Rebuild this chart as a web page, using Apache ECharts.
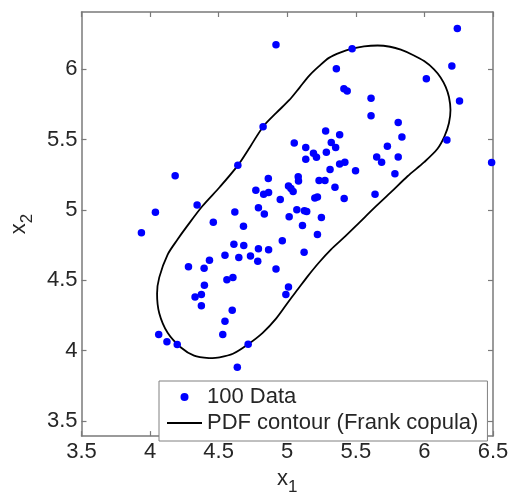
<!DOCTYPE html>
<html>
<head>
<meta charset="utf-8">
<script src="https://cdn.jsdelivr.net/npm/echarts@6/dist/echarts.min.js"></script>
<style>
html,body{margin:0;padding:0;background:#fff;}
#chart{width:515px;height:501px;}
</style>
</head>
<body>
<div id="chart"></div>
<script>
// ---- data ----
const dataX = [6.240,4.918,5.473,5.358,6.200,6.014,5.413,5.437,6.256,5.611,
  5.611,4.824,5.809,5.280,5.382,5.836,5.051,5.321,6.164,5.353,
  5.135,5.730,5.191,5.285,5.213,5.135,5.652,5.688,5.809,5.382,
  5.420,4.640,6.490,4.183,5.312,5.498,5.785,4.862,5.080,5.082,
  5.232,5.275,5.348,4.771,5.009,5.027,5.043,4.828,4.864,5.640,
  4.949,5.201,5.220,5.415,4.343,4.039,4.618,4.790,4.833,5.070,
  5.125,5.142,5.014,5.249,3.937,4.461,4.681,5.111,5.220,4.964,
  4.611,4.683,4.790,4.864,4.546,4.647,4.732,5.123,4.785,4.433,
  4.280,4.394,4.918,4.560,4.604,4.396,5.009,4.990,4.328,4.374,
  4.374,4.599,4.546,4.530,4.063,4.123,4.198,4.715,4.636];
const dataY = [6.289,6.174,6.146,6.004,6.023,5.933,5.861,5.845,5.775,5.794,
  5.669,5.592,5.622,5.562,5.535,5.518,5.476,5.479,5.497,5.444,
  5.444,5.453,5.403,5.410,5.375,5.361,5.377,5.340,5.377,5.326,
  5.340,5.317,5.337,5.243,5.287,5.278,5.257,5.224,5.236,5.206,
  5.210,5.210,5.162,5.141,5.171,5.153,5.132,5.111,5.125,5.111,
  5.074,5.085,5.092,5.081,5.035,4.983,4.986,5.016,4.972,5.002,
  4.995,4.990,4.951,4.947,4.838,4.912,4.884,4.889,4.826,4.782,
  4.757,4.747,4.724,4.717,4.678,4.662,4.673,4.699,4.636,4.643,
  4.597,4.585,4.581,4.504,4.521,4.465,4.453,4.400,4.382,4.400,
  4.319,4.287,4.210,4.115,4.115,4.063,4.044,4.046,3.882];

const contourX = [4.430,4.321,4.225,4.128,4.067,4.051,4.067,4.128,4.200,4.270,
  4.382,4.510,4.640,4.730,4.824,4.920,5.014,5.090,5.159,5.230,
  5.304,5.390,5.473,5.560,5.659,5.750,5.828,5.920,5.998,6.070,
  6.118,6.155,6.179,6.190,6.179,6.147,6.094,5.998,5.877,5.760,
  5.640,5.520,5.420,5.320,5.230,5.150,5.080,5.010,4.920,4.821,
  4.715,4.604,4.507,4.430];
const contourY = [3.947,3.965,4.023,4.127,4.266,4.405,4.521,4.683,4.790,4.885,
  5.028,5.165,5.317,5.450,5.592,5.690,5.780,5.870,5.953,6.020,
  6.081,6.120,6.146,6.163,6.169,6.160,6.139,6.100,6.058,6.000,
  5.942,5.875,5.803,5.710,5.618,5.525,5.433,5.340,5.240,5.130,
  5.020,4.905,4.810,4.720,4.625,4.530,4.440,4.350,4.230,4.127,
  4.046,3.978,3.953,3.947];

const xTicks = [3.5,4,4.5,5,5.5,6,6.5];
const yTicks = [3.5,4,4.5,5,5.5,6];
const seriesNames = ['100 Data','PDF contour (Frank copula)'];

// ---- chart ----
const FONT = 'Liberation Sans, Arial, sans-serif';
const TXT = '#262626';
const AX = '#7a7a7a';

const chart = echarts.init(document.getElementById('chart'), null, {renderer:'canvas'});
const scatterData = dataX.map((x,i)=>[x,dataY[i]]);
const contourData = contourX.map((x,i)=>[x,contourY[i]]);

const axLine = {show:true, onZero:false, lineStyle:{color:AX, width:1.5}};
const axTickX = {show:true, inside:true, length:5, customValues:xTicks, lineStyle:{color:AX, width:1.2}};
const axTickY = {show:true, inside:true, length:5, customValues:yTicks, lineStyle:{color:AX, width:1.2}};
const nameRich = {a:{fontSize:22, lineHeight:22, verticalAlign:'top', color:TXT, fontFamily:FONT},
                  b:{fontSize:17, lineHeight:28, verticalAlign:'bottom', color:TXT, fontFamily:FONT}};

chart.setOption({
  animation:false,
  backgroundColor:'#fff',
  grid:{left:79, right:22, top:12, bottom:55, containLabel:false},
  xAxis:[
    {type:'value', min:3.5, max:6.5, interval:0.5, position:'bottom',
     axisLine:axLine, axisTick:axTickX, splitLine:{show:false},
     axisLabel:{show:true, customValues:xTicks, margin:5, fontSize:22, color:TXT, fontFamily:FONT},
     name:'{a|x}{b|1}', nameLocation:'middle', nameGap:28,
     nameTextStyle:{color:TXT, fontFamily:FONT, rich:nameRich}},
    {type:'value', min:3.5, max:6.5, interval:0.5, position:'top',
     axisLine:axLine, axisTick:axTickX, splitLine:{show:false}, axisLabel:{show:false}}
  ],
  yAxis:[
    {type:'value', min:3.393, max:6.407, position:'left',
     axisLine:axLine, axisTick:axTickY, splitLine:{show:false},
     axisLabel:{show:true, customValues:yTicks, margin:4, fontSize:22, color:TXT, fontFamily:FONT},
     name:'{a|x}{b|2}', nameLocation:'middle', nameGap:42,
     nameTextStyle:{color:TXT, fontFamily:FONT, rich:nameRich}},
    {type:'value', min:3.393, max:6.407, position:'right',
     axisLine:axLine, axisTick:axTickY, splitLine:{show:false}, axisLabel:{show:false}}
  ],
  legend:{
    show:true, orient:'vertical', left:159, top:381,
    padding:[5,9,7,8], itemGap:4, itemWidth:35, itemHeight:8,
    borderColor:'#808080', borderWidth:1, backgroundColor:'#fff',
    textStyle:{fontSize:22, color:TXT, fontFamily:FONT},
    data:[
      {name:seriesNames[0], icon:'circle', itemStyle:{color:'#0000FF', opacity:1}},
      {name:seriesNames[1], icon:'path://M0,0 H35 V2 H0 Z', itemStyle:{color:'#000000', opacity:1}}
    ]
  },
  series:[
    {type:'scatter', name:seriesNames[0], data:scatterData, symbol:'circle', symbolSize:7.5,
     itemStyle:{color:'#0000FF', opacity:1}, z:3},
    {type:'line', name:seriesNames[1], data:contourData, symbol:'none', showSymbol:false, smooth:0.3,
     lineStyle:{color:'#000000', width:1.8}, itemStyle:{color:'#000000'}, z:2}
  ]
});
</script>
</body>
</html>
